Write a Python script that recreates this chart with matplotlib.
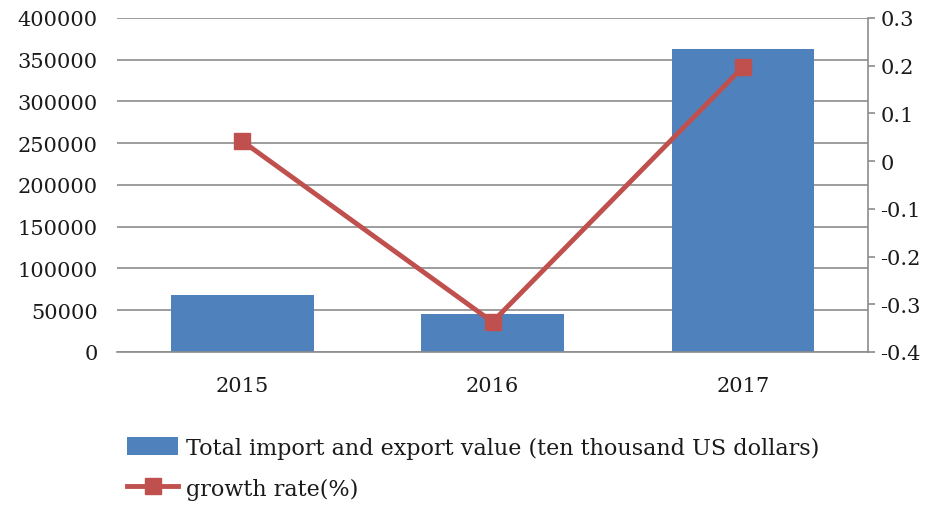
import numpy as np
import matplotlib.pyplot as plt

years = ['2015', '2016', '2017']
trade_value = [68000, 45500, 363000]
growth_rate = [0.042, -0.337, 0.197]

bar_color = '#4F81BD'
line_color = '#C0504D'
grid_color = '#8C8C8C'

plt.rcParams['font.family'] = 'DejaVu Serif'
plt.rcParams['text.color'] = '#1a1a1a'

fig = plt.figure(figsize=(9.33, 5.06), dpi=100)
ax1 = fig.add_axes([0.1254, 0.3024, 0.805, 0.6601])
ax2 = ax1.twinx()

x = np.arange(len(years))
bars = ax1.bar(x, trade_value, width=0.57, color=bar_color,
               label='Total import and export value (ten thousand US dollars)', zorder=2)
ax1.set_xlim(-0.5, 2.5)
ax1.set_ylim(0, 400000)
ax1.set_yticks(np.arange(0, 400001, 50000))
ax1.yaxis.grid(True, color=grid_color, linewidth=1.2, zorder=0)
ax1.set_axisbelow(True)
ax1.set_xticks(x)
ax1.set_xticklabels(years)
ax1.tick_params(axis='x', length=0, pad=17, labelsize=15, labelcolor='#1a1a1a')
ax1.tick_params(axis='y', length=0, pad=14, labelsize=15, labelcolor='#1a1a1a')
for s in ['top', 'left', 'right']:
    ax1.spines[s].set_visible(False)
ax1.spines['bottom'].set_color(grid_color)
ax1.spines['bottom'].set_linewidth(1.2)

line, = ax2.plot(x, growth_rate, color=line_color, linewidth=3.5, marker='s',
                 markersize=12, label='growth rate(%)', zorder=3)
ax2.set_ylim(-0.4, 0.3)
ax2.set_yticks(np.round(np.arange(-0.4, 0.31, 0.1), 1))
ax2.set_yticklabels(['-0.4', '-0.3', '-0.2', '-0.1', '0', '0.1', '0.2', '0.3'])
ax2.tick_params(axis='y', length=5, color=grid_color, width=1.2, pad=4,
                labelsize=15, labelcolor='#1a1a1a')
for s in ['top', 'left', 'bottom']:
    ax2.spines[s].set_visible(False)
ax2.spines['right'].set_color(grid_color)
ax2.spines['right'].set_linewidth(1.2)

fig.legend(handles=[bars, line], loc='upper left', bbox_to_anchor=(0.127, 0.153),
           frameon=False, prop={'size': 16}, handlelength=2.3,
           handleheight=0.9, handletextpad=0.35, labelspacing=0.85, borderaxespad=0)

plt.savefig('out.png', dpi=100)
